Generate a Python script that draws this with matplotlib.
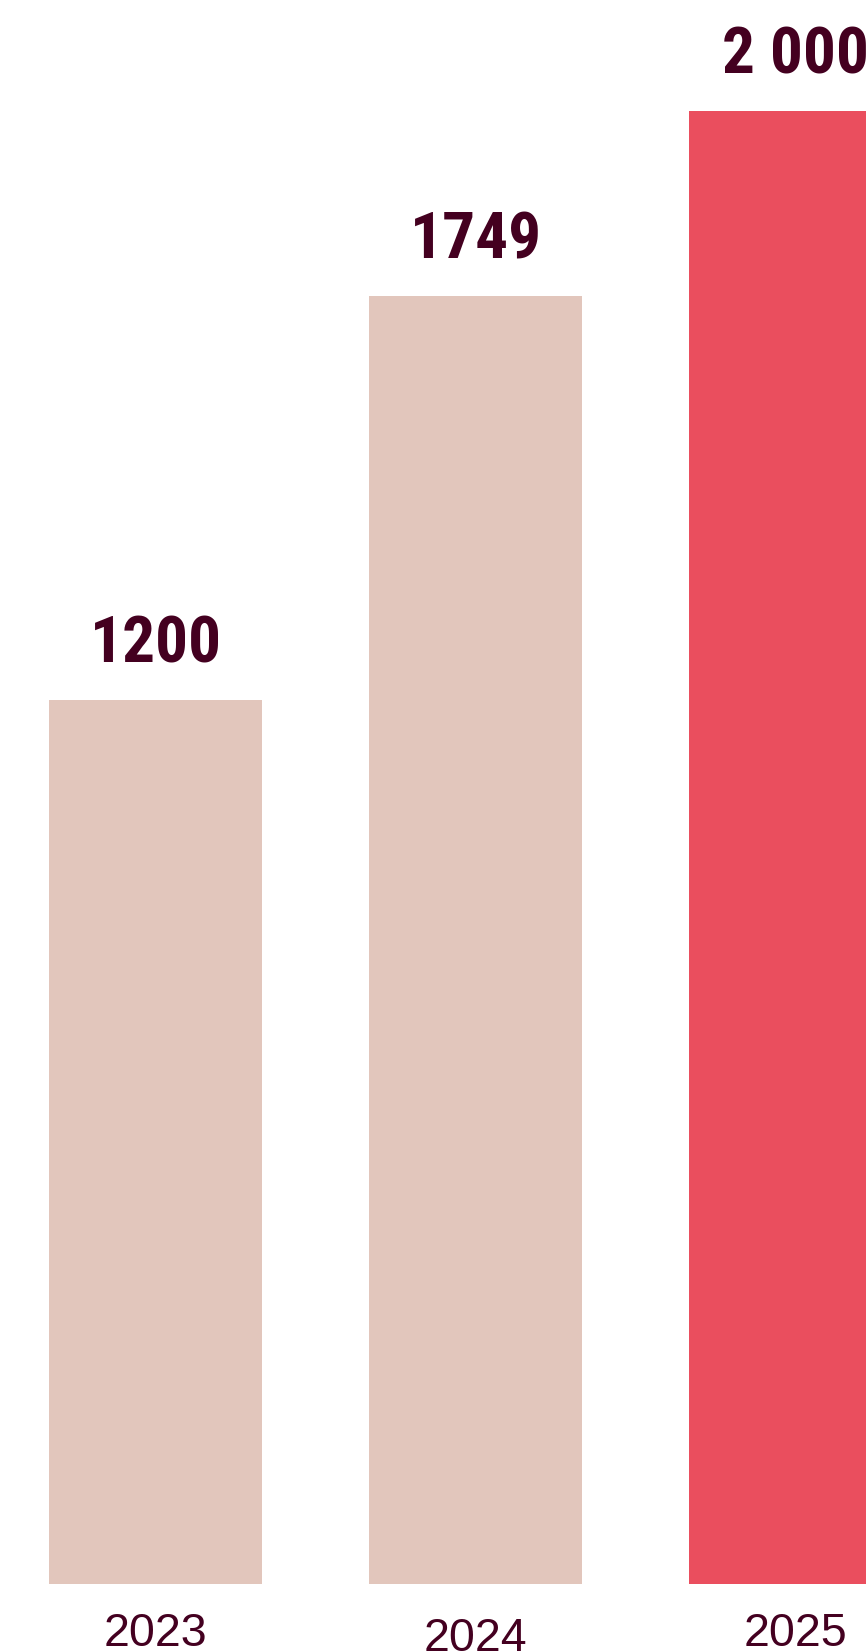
import matplotlib
matplotlib.use("Agg")
import matplotlib.pyplot as plt
from matplotlib.transforms import ScaledTranslation

years = ["2023", "2024", "2025"]
values = [1200, 1749, 2000]
value_labels = ["1200", "1749", "2\u202f000"]
bar_colors = ["#E2C6BC", "#E2C6BC", "#EA4E5E"]
text_color = "#440020"

W, H = 866, 1652
fig = plt.figure(figsize=(W / 100, H / 100), dpi=100)
ax = fig.add_axes([0, 68 / H, 1, 1 - 68 / H])

x = list(range(len(years)))
ax.bar(x, values, width=0.666, color=bar_colors, linewidth=0)
ax.set_xlim(-0.486, 2.220)
ax.set_ylim(0, 2150.7)

for xi, v, lab in zip(x, values, value_labels):
    ax.annotate(lab, (xi, v), xytext=(0, 27), textcoords="offset points",
                ha="center", va="baseline", fontsize=47, fontweight="bold",
                family=["Roboto Condensed", "DejaVu Sans"], color=text_color)

ax.set_xticks(x)
ax.set_xticklabels(years, fontsize=33.5, family="Liberation Sans", color=text_color)
ax.tick_params(axis="x", length=0, pad=20)
ax.set_yticks([])
for s in ax.spines.values():
    s.set_visible(False)

lbl = ax.get_xticklabels()[1]
lbl.set_transform(lbl.get_transform() + ScaledTranslation(0, -4 / 72, fig.dpi_scale_trans))

fig.savefig("out.png", dpi=100, facecolor="white")
